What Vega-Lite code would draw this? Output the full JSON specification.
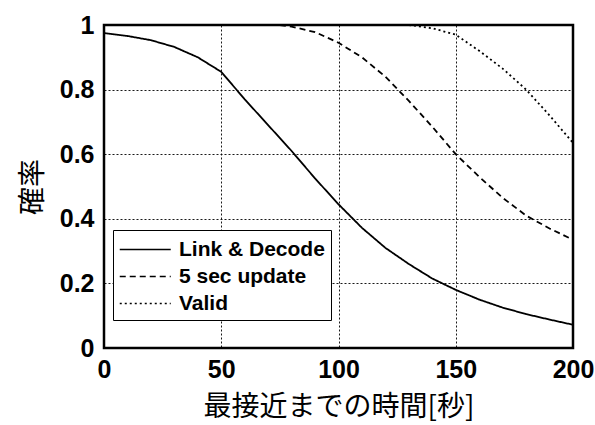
{
  "$schema": "https://vega.github.io/schema/vega-lite/v6.json",
  "autosize": "none",
  "width": 469,
  "height": 323,
  "padding": {"left": 104, "top": 25, "right": 22, "bottom": 77},
  "background": "white",
  "config": {
    "view": {"stroke": "black", "strokeWidth": 2.5},
    "axis": {
      "labelFont": "Liberation Sans",
      "labelFontWeight": "bold",
      "labelFontSize": 25,
      "labelColor": "black",
      "labelFlush": false,
      "grid": true,
      "gridColor": "black",
      "gridDash": [2, 2],
      "gridWidth": 1,
      "gridOpacity": 0.9,
      "domain": false,
      "ticks": false,
      "titleFont": "Noto Sans CJK JP",
      "titleFontWeight": "normal",
      "titleFontSize": 28,
      "titleColor": "black"
    }
  },
  "data": {
    "values": [
      {"t": 0, "p": 0.975, "s": "Link & Decode"},
      {"t": 10, "p": 0.966, "s": "Link & Decode"},
      {"t": 20, "p": 0.953, "s": "Link & Decode"},
      {"t": 30, "p": 0.932, "s": "Link & Decode"},
      {"t": 40, "p": 0.9, "s": "Link & Decode"},
      {"t": 50, "p": 0.855, "s": "Link & Decode"},
      {"t": 60, "p": 0.77, "s": "Link & Decode"},
      {"t": 70, "p": 0.69, "s": "Link & Decode"},
      {"t": 80, "p": 0.61, "s": "Link & Decode"},
      {"t": 90, "p": 0.525, "s": "Link & Decode"},
      {"t": 100, "p": 0.445, "s": "Link & Decode"},
      {"t": 110, "p": 0.372, "s": "Link & Decode"},
      {"t": 120, "p": 0.31, "s": "Link & Decode"},
      {"t": 130, "p": 0.26, "s": "Link & Decode"},
      {"t": 140, "p": 0.215, "s": "Link & Decode"},
      {"t": 150, "p": 0.18, "s": "Link & Decode"},
      {"t": 160, "p": 0.15, "s": "Link & Decode"},
      {"t": 170, "p": 0.125, "s": "Link & Decode"},
      {"t": 180, "p": 0.105, "s": "Link & Decode"},
      {"t": 190, "p": 0.088, "s": "Link & Decode"},
      {"t": 200, "p": 0.072, "s": "Link & Decode"},
      {"t": 75, "p": 1.0, "s": "5 sec update"},
      {"t": 80, "p": 0.995, "s": "5 sec update"},
      {"t": 90, "p": 0.978, "s": "5 sec update"},
      {"t": 100, "p": 0.945, "s": "5 sec update"},
      {"t": 110, "p": 0.9, "s": "5 sec update"},
      {"t": 120, "p": 0.84, "s": "5 sec update"},
      {"t": 130, "p": 0.765, "s": "5 sec update"},
      {"t": 140, "p": 0.685, "s": "5 sec update"},
      {"t": 150, "p": 0.6, "s": "5 sec update"},
      {"t": 160, "p": 0.53, "s": "5 sec update"},
      {"t": 170, "p": 0.465, "s": "5 sec update"},
      {"t": 180, "p": 0.41, "s": "5 sec update"},
      {"t": 190, "p": 0.37, "s": "5 sec update"},
      {"t": 200, "p": 0.335, "s": "5 sec update"},
      {"t": 0, "p": 1.0, "s": "Valid"},
      {"t": 130, "p": 1.0, "s": "Valid"},
      {"t": 140, "p": 0.99, "s": "Valid"},
      {"t": 150, "p": 0.97, "s": "Valid"},
      {"t": 160, "p": 0.92, "s": "Valid"},
      {"t": 170, "p": 0.865, "s": "Valid"},
      {"t": 180, "p": 0.8, "s": "Valid"},
      {"t": 190, "p": 0.72, "s": "Valid"},
      {"t": 200, "p": 0.635, "s": "Valid"}
    ]
  },
  "mark": {"type": "line", "color": "black", "strokeWidth": 1.8, "clip": true},
  "encoding": {
    "x": {
      "field": "t", "type": "quantitative",
      "scale": {"domain": [0, 200], "nice": false},
      "axis": {"values": [0, 50, 100, 150, 200], "title": "最接近までの時間[秒]", "labelPadding": 9, "titlePadding": 11}
    },
    "y": {
      "field": "p", "type": "quantitative",
      "scale": {"domain": [0, 1], "nice": false},
      "axis": {"values": [0, 0.2, 0.4, 0.6, 0.8, 1], "format": ".1~f", "title": "確率", "labelPadding": 10, "titlePadding": 12}
    },
    "strokeDash": {
      "field": "s", "type": "nominal",
      "scale": {"domain": ["Link & Decode", "5 sec update", "Valid"], "range": [[1, 0], [6, 4], [2, 3]]},
      "legend": {
        "title": null,
        "orient": "none",
        "legendX": 9,
        "legendY": 205,
        "symbolType": "M-1,0H3",
        "symbolSize": 650,
        "symbolStrokeWidth": 1.5,
        "symbolStrokeColor": "black",
        "symbolFillColor": "transparent",
        "labelFont": "Liberation Sans",
        "labelFontWeight": "bold",
        "labelFontSize": 21,
        "labelColor": "black",
        "labelOffset": 33,
        "rowPadding": 3,
        "fillColor": "white",
        "strokeColor": "black",
        "padding": 6
      }
    }
  }
}
